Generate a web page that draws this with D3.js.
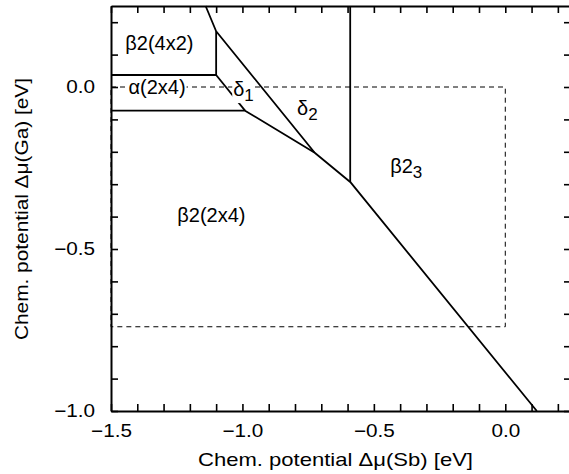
<!DOCTYPE html>
<html>
<head>
<meta charset="utf-8">
<script src="https://cdn.jsdelivr.net/npm/d3@7"></script>
<style>
  body { margin: 0; background: #fff; }
  svg { display: block; }
  text { font-family: "Liberation Sans", Arial, sans-serif; fill: #000; }
</style>
</head>
<body>
<svg id="chart" width="569" height="474"></svg>
<script>
// phase boundaries, points are [dmu(Sb), dmu(Ga)] in eV
var upperEdge  = [[-1.14, 0.25], [-1.10, 0.172], [-0.725, -0.203]];
var box4x2     = [[-1.10, 0.172], [-1.10, 0.037], [-1.5, 0.037]];
var delta1Edge = [[-1.10, 0.037], [-0.99, -0.073]];
var lowerEdge  = [[-1.5, -0.073], [-0.99, -0.073], [-0.725, -0.203], [-0.59, -0.293], [0.12, -1.0]];
var beta23Edge = [[-0.59, 0.25], [-0.59, -0.293]];
// allowed range (dashed)
var limitBox   = [[-1.5, 0], [0, 0], [0, -0.74], [-1.5, -0.74], [-1.5, 0]];

var xTicks  = d3.range(-15, 3).map(function(d){ return d / 10; });
var yTicks  = d3.range(-10, 3).map(function(d){ return d / 10; });
var xLabels = [-1.5, -1.0, -0.5, 0.0];
var yLabels = [-1.0, -0.5, 0.0];

// phase names and where they sit (eV)
var phaseNames = ["β2(4x2)", "α(2x4)", "δ", "δ", "β2", "β2(2x4)"];
var phaseSubs  = ["", "", "1", "2", "3", ""];
var phaseAt    = [[-1.316, 0.114], [-1.325, -0.022], [-1.035, -0.028], [-0.792, -0.086], [-0.438, -0.265], [-1.118, -0.417]];

var svg = d3.select("#chart");
var margin = {top: 6, left: 111};
var w = 460, h = 405;

var x = d3.scaleLinear().domain([-1.5, 0.25]).range([0, w]);
var y = d3.scaleLinear().domain([-1.0, 0.25]).range([h, 0]);

var g = svg.append("g")
    .attr("transform", `translate(${margin.left},${margin.top})`);

var fmt = d3.format(".1f");

function stretch(sel, k){
    sel.each(function(){
        var t = this.getComputedTextLength();
        if (t > 0) d3.select(this).attr("textLength", t * k).attr("lengthAdjust", "spacingAndGlyphs");
    });
}

// axes, ticks pointing inward
var xb = g.append("g").attr("transform", `translate(0,${h})`)
    .call(d3.axisBottom(x).tickValues(xTicks).tickSizeInner(-7).tickSizeOuter(0).tickPadding(13)
        .tickFormat(function(d){ return xLabels.indexOf(d) >= 0 ? fmt(d) : ""; }));
var yl = g.append("g")
    .call(d3.axisLeft(y).tickValues(yTicks).tickSizeInner(-7).tickSizeOuter(0).tickPadding(16)
        .tickFormat(function(d){ return yLabels.indexOf(d) >= 0 ? fmt(d) : ""; }));
var xt = g.append("g")
    .call(d3.axisTop(x).tickValues(xTicks).tickSizeInner(-7).tickSizeOuter(0).tickFormat(""));
var yr = g.append("g").attr("transform", `translate(${w},0)`)
    .call(d3.axisRight(y).tickValues(yTicks).tickSizeInner(-7).tickSizeOuter(0).tickFormat(""));

[xb, yl, xt, yr].forEach(function(a){
    a.select(".domain").attr("stroke", "#000").attr("stroke-width", 2);
    a.selectAll(".tick line").attr("stroke", "#000").attr("stroke-width", 1.6);
    a.selectAll(".tick text").style("font-size", "18px").attr("font-family", null).attr("fill", "#000");
});
stretch(xb.selectAll(".tick text"), 1.15);
stretch(yl.selectAll(".tick text"), 1.15);

var line = d3.line()
    .x(function(d){ return x(d[0]); })
    .y(function(d){ return y(d[1]); });

g.append("path")
    .datum(limitBox)
    .attr("d", line)
    .attr("fill", "none")
    .attr("stroke", "#000")
    .attr("stroke-width", 1)
    .attr("stroke-dasharray", "5,4");

[upperEdge, box4x2, delta1Edge, lowerEdge, beta23Edge].forEach(function(seg){
    g.append("path")
        .datum(seg)
        .attr("d", line)
        .attr("fill", "none")
        .attr("stroke", "#000")
        .attr("stroke-width", 1.8)
        .attr("stroke-linejoin", "round");
});

// phase labels
phaseNames.forEach(function(name, i){
    var t = g.append("text")
        .attr("x", x(phaseAt[i][0]))
        .attr("y", y(phaseAt[i][1]))
        .attr("text-anchor", phaseSubs[i] ? "start" : "middle")
        .style("font-size", "20px")
        .text(name);
    if (phaseSubs[i]) {
        t.append("tspan").attr("dy", 5).style("font-size", "17px").text(phaseSubs[i]);
    }
    // labels sitting on the dashed line get a white backing
    if (i == 1 || i == 2) {
        var b = t.node().getBBox();
        g.insert("rect", function(){ return t.node(); })
            .attr("x", b.x - 1).attr("y", b.y + 2)
            .attr("width", b.width + 2).attr("height", b.height - 4)
            .attr("fill", "#fff");
    }
});

// axis titles
svg.append("text")
    .attr("x", 335.5)
    .attr("y", 466)
    .attr("text-anchor", "middle")
    .style("font-size", "18.5px")
    .attr("textLength", 275)
    .attr("lengthAdjust", "spacingAndGlyphs")
    .text("Chem. potential Δμ(Sb) [eV]");

svg.append("text")
    .attr("transform", "translate(28,209) rotate(-90)")
    .attr("text-anchor", "middle")
    .style("font-size", "18.5px")
    .attr("textLength", 262)
    .attr("lengthAdjust", "spacingAndGlyphs")
    .text("Chem. potential Δμ(Ga) [eV]");
</script>
</body>
</html>
